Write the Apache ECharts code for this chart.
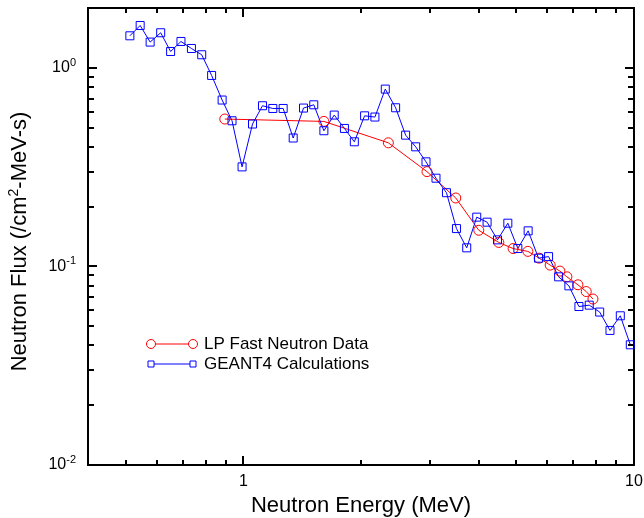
<!DOCTYPE html>
<html>
<head>
<meta charset="utf-8">
<script src="https://cdn.jsdelivr.net/npm/echarts@6/dist/echarts.min.js"></script>
<style>
  html, body { margin: 0; background: #fff; }
  #chart { width: 644px; height: 518px; }
</style>
</head>
<body>
<div id="chart"></div>
<script>
// LP fast neutron measurements
const lpEnergy = [0.896, 1.607, 2.350, 2.951, 3.497, 4.005, 4.507, 4.903, 5.349, 5.717, 6.101, 6.461, 6.733, 7.185, 7.546, 7.851]
const lpFlux = [0.552, 0.537, 0.419, 0.300, 0.221, 0.152, 0.132, 0.123, 0.119, 0.110, 0.1015, 0.0947, 0.0886, 0.0808, 0.0747, 0.0685]

// GEANT4 calculation
const g4Energy = [0.512, 0.544, 0.577, 0.614, 0.651, 0.692, 0.736, 0.782, 0.829, 0.882, 0.935, 0.992, 1.055, 1.119, 1.189, 1.264, 1.341, 1.425, 1.514, 1.607, 1.708, 1.814, 1.923, 2.043, 2.171, 2.308, 2.453, 2.602, 2.761, 2.934, 3.112, 3.310, 3.511, 3.730, 3.957, 4.206, 4.472, 4.753, 5.042, 5.358, 5.696, 6.043, 6.412, 6.812, 7.228, 7.681, 8.168, 8.680, 9.224, 9.784]
const g4Flux = [1.449, 1.633, 1.347, 1.501, 1.208, 1.357, 1.251, 1.163, 0.915, 0.688, 0.541, 0.317, 0.521, 0.644, 0.624, 0.624, 0.443, 0.627, 0.651, 0.482, 0.578, 0.495, 0.424, 0.573, 0.565, 0.781, 0.629, 0.458, 0.400, 0.336, 0.278, 0.235, 0.155, 0.124, 0.177, 0.167, 0.136, 0.165, 0.123, 0.151, 0.110, 0.112, 0.0886, 0.0798, 0.0628, 0.0638, 0.0589, 0.0476, 0.0564, 0.0403]

const seriesNames = ['LP Fast Neutron Data', 'GEANT4 Calculations']

const xMajor = [1, 10]
const xMinor = [0.5, 0.6, 0.7, 0.8, 0.9, 2, 3, 4, 5, 6, 7, 8, 9]
const yMajor = [0.01, 0.1, 1]
const yMinor = [0.02, 0.03, 0.04, 0.05, 0.06, 0.07, 0.08, 0.09, 0.2, 0.3, 0.4, 0.5, 0.6, 0.7, 0.8, 0.9]

const FONT = "'Liberation Sans', Arial, Helvetica, sans-serif"
const [xMin, xMax, yMin, yMax] = [0.4, 10, 0.01, 2]

const legendItem = (y, color, isCircle, label) => ({
  type: 'group',
  children: [
    { type: 'line', shape: { x1: 151, y1: y, x2: 193, y2: y }, style: { stroke: color, lineWidth: 1 } },
    ...[151, 193].map(cx => isCircle
      ? { type: 'circle', shape: { cx, cy: y, r: 4.5 }, style: { fill: '#fff', stroke: color, lineWidth: 1 } }
      : { type: 'rect', shape: { x: cx - 3, y: y - 3, width: 6, height: 6 }, style: { fill: '#fff', stroke: color, lineWidth: 1 } }),
    { type: 'text', x: 204, y, style: { text: label, fill: '#000', fontSize: 17, fontFamily: FONT, verticalAlign: 'middle' } }
  ]
})

const option = {
  animation: false,
  backgroundColor: '#fff',
  grid: {
    left: 88, right: 10, top: 8, bottom: 53,
    containLabel: false, outerBoundsMode: 'none',
    show: true, borderColor: '#000', borderWidth: 2
  },
  xAxis: {
    type: 'log',
    logBase: 10,
    min: xMin,
    max: xMax,
    axisLine: { show: false },
    axisTick: { show: false },
    splitLine: { show: false },
    axisLabel: {
      customValues: xMajor, margin: 9,
      color: '#000', fontSize: 16, fontFamily: FONT,
      formatter: v => String(v)
    },
    name: 'Neutron Energy (MeV)',
    nameLocation: 'middle',
    nameGap: 23,
    nameTextStyle: { color: '#000', fontSize: 22, fontFamily: FONT }
  },
  yAxis: {
    type: 'log',
    logBase: 10,
    min: yMin,
    max: yMax,
    axisLine: { show: false },
    axisTick: { show: false },
    splitLine: { show: false },
    axisLabel: {
      customValues: yMajor, margin: 12,
      color: '#000', fontSize: 16, fontFamily: FONT,
      formatter: v => '10{sup|' + Math.round(Math.log10(v)) + '}',
      rich: { sup: { fontSize: 11, fontFamily: FONT, color: '#000', padding: [0, 0, 10, 0] } }
    },
    name: 'Neutron Flux (/cm{sup|2}-MeV-s)',
    nameLocation: 'middle',
    nameRotate: 90,
    nameGap: 55,
    nameTextStyle: {
      color: '#000', fontSize: 22, fontFamily: FONT,
      padding: [0, 10, 0, 0],
      rich: { sup: { fontSize: 14, fontFamily: FONT, color: '#000', padding: [0, 0, 12, 0] } }
    }
  },
  series: [
    {
      name: seriesNames[0],
      type: 'line',
      data: lpEnergy.map((e, i) => [e, lpFlux[i]]),
      symbol: 'circle',
      symbolSize: 10,
      lineStyle: { color: '#ff0000', width: 1 },
      itemStyle: { color: 'rgba(0,0,0,0)', borderColor: '#ff0000', borderWidth: 1 }
    },
    {
      name: seriesNames[1],
      type: 'line',
      data: g4Energy.map((e, i) => [e, g4Flux[i]]),
      symbol: 'rect',
      symbolSize: 8,
      lineStyle: { color: '#0000ff', width: 1 },
      itemStyle: { color: 'rgba(0,0,0,0)', borderColor: '#0000ff', borderWidth: 1 }
    }
  ],
  graphic: [
    legendItem(344, '#ff0000', true, seriesNames[0]),
    legendItem(364, '#0000ff', false, seriesNames[1])
  ]
}

const chart = echarts.init(document.getElementById('chart'))
chart.setOption(option)

// inside ticks on all four sides, positioned through the chart's own log scales
const toPx = (x, y) => chart.convertToPixel({ gridIndex: 0 }, [x, y])
const ticks = []
const tick = (x, y, w, h) => ticks.push({
  type: 'rect', z: 50,
  shape: { x: Math.round(x), y: Math.round(y), width: w, height: h },
  style: { fill: '#000' }
})
const addX = (values, len) => values.forEach(v => {
  const [bx, by] = toPx(v, yMin)
  const [tx, ty] = toPx(v, yMax)
  tick(bx - 1, by - len, 2, len)
  tick(tx - 1, ty, 2, len)
})
const addY = (values, len) => values.forEach(v => {
  const [lx, ly] = toPx(xMin, v)
  const [rx, ry] = toPx(xMax, v)
  tick(lx, ly - 1, len, 2)
  tick(rx - len, ry - 1, len, 2)
})
addX(xMajor, 9)
addX(xMinor, 5)
addY(yMajor, 9)
addY(yMinor, 6)

chart.setOption({
  graphic: [
    legendItem(344, '#ff0000', true, seriesNames[0]),
    legendItem(364, '#0000ff', false, seriesNames[1]),
    { type: 'group', children: ticks }
  ]
})
</script>
</body>
</html>
